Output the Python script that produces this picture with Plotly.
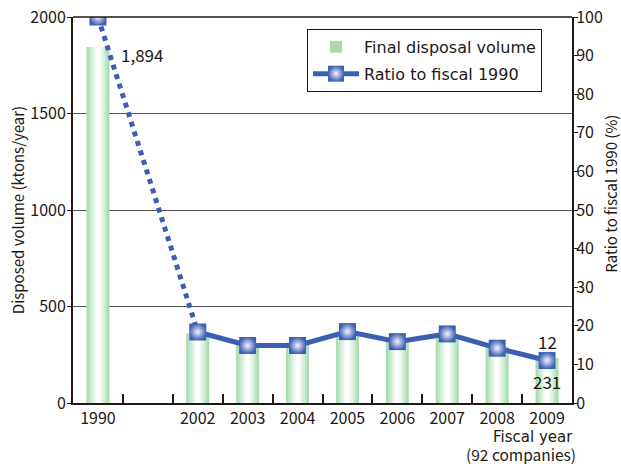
import plotly.graph_objects as go

# ---- data ----
categories = ["1990", " ", "2002", "2003", "2004", "2005", "2006", "2007", "2008", "2009"]
bar_years = ["1990", "2002", "2003", "2004", "2005", "2006", "2007", "2008", "2009"]
volume = [1845, 362, 302, 314, 354, 319, 345, 293, 233]
ratio_years = ["1990", " ", "2002", "2003", "2004", "2005", "2006", "2007", "2008", "2009"]
ratio = [100, None, 18.4, 14.9, 14.9, 18.5, 15.9, 17.9, 14.2, 11.0]
dotted_x = ["1990", "2002"]
dotted_y = [100, 18.4]
left_ticks = [0, 500, 1000, 1500, 2000]
right_ticks = [0, 10, 20, 30, 40, 50, 60, 70, 80, 90, 100]
label_1990 = "1,894"
label_2009_ratio = "12"
label_2009_volume = "231"

FONT = "Noto Sans CJK JP"
WIDE = "DejaVu Sans"
BLUE = "#3d5fb3"
INK = "#231815"

fig = go.Figure()

# simulated horizontal gradient for bars: overlaid bars of decreasing width
layers = [
    (0.46, "#a8dbb4"),
    (0.38, "#bbe4c5"),
    (0.30, "#cfedd6"),
    (0.22, "#e2f4e6"),
    (0.14, "#f1faf3"),
    (0.07, "#ffffff"),
]
for i, (w, c) in enumerate(layers):
    fig.add_trace(go.Bar(
        x=bar_years, y=volume, width=w,
        marker=dict(color=c, line=dict(width=0)),
        name="Final disposal volume",
        legendgroup="vol",
        showlegend=(i == 0),
        yaxis="y",
    ))

fig.add_trace(go.Scatter(
    x=dotted_x, y=dotted_y, mode="lines",
    line=dict(color=BLUE, width=5, dash="dot"),
    showlegend=False, yaxis="y2",
))
fig.add_trace(go.Scatter(
    x=ratio_years, y=ratio, mode="lines+markers",
    line=dict(color=BLUE, width=5),
    marker=dict(symbol="square", size=17, color=BLUE,
                gradient=dict(type="radial", color="#f4f4ff"),
                line=dict(width=0)),
    connectgaps=False,
    name="Ratio to fiscal 1990",
    legendgroup="ratio",
    yaxis="y2",
))

idx_1990 = categories.index("1990")
idx_2009 = categories.index("2009")

fig.update_layout(
    width=621, height=464,
    margin=dict(l=73, r=49, t=17, b=61, autoexpand=False),
    paper_bgcolor="white", plot_bgcolor="white",
    barmode="overlay",
    font=dict(family=FONT, size=16, color=INK),
    xaxis=dict(
        type="category", categoryorder="array", categoryarray=categories,
        range=[-0.5, len(categories) - 0.5], autorange=False,
        tickson="boundaries", ticks="inside", ticklen=9, tickcolor=INK,
        tickwidth=1.5, tickangle=0, automargin=False,
        showline=True, linecolor=INK, linewidth=2, mirror=False,
        showgrid=False, tickfont=dict(size=16),
    ),
    yaxis=dict(
        range=[0, 2000], tickvals=left_ticks, automargin=False,
        ticks="outside", ticklen=4, tickcolor=INK, ticklabelstandoff=-2,
        showline=True, linecolor=INK, linewidth=2,
        showgrid=True, gridcolor="#555555", gridwidth=1,
        zeroline=False,
        title=dict(text="Disposed volume (ktons/year)", font=dict(size=15), standoff=2),
        tickfont=dict(size=16),
    ),
    yaxis2=dict(
        range=[0, 100], tickvals=right_ticks, overlaying="y", side="right",
        automargin=False,
        ticks="outside", ticklen=4, tickcolor=INK, ticklabelstandoff=-5,
        showline=True, linecolor=INK, linewidth=2,
        showgrid=False, zeroline=False,
        tickfont=dict(size=16),
    ),
    legend=dict(
        x=0.469, y=0.969, xanchor="left", yanchor="top",
        bgcolor="white", bordercolor=INK, borderwidth=1,
        font=dict(family=WIDE, size=16), itemwidth=46,
        traceorder="grouped", tracegroupgap=3,
    ),
    shapes=[dict(type="line", xref="paper", yref="paper", x0=0, x1=1, y0=1, y1=1,
                 line=dict(color=INK, width=1.5))],
    annotations=[
        dict(x=1.078, y=0.542, xref="paper", yref="paper", text="Ratio to fiscal 1990 (%)",
             textangle=-90, showarrow=False, xanchor="center", yanchor="middle",
             font=dict(size=15)),
        dict(x=idx_1990, y=volume[0], xref="x", yref="y", text=label_1990, showarrow=False,
             xanchor="left", yanchor="middle", xshift=21, yshift=-8, font=dict(size=17)),
        dict(x=idx_2009, y=ratio[-1], xref="x", yref="y2", text=label_2009_ratio, showarrow=False,
             yanchor="middle", yshift=19, font=dict(size=17)),
        dict(x=idx_2009, y=ratio[-1], xref="x", yref="y2", text=label_2009_volume, showarrow=False,
             yanchor="middle", yshift=-21, font=dict(size=17)),
        dict(x=1.006, y=-0.089, xref="paper", yref="paper", text="Fiscal year",
             showarrow=False, xanchor="right", yanchor="middle",
             font=dict(family=WIDE, size=15)),
        dict(x=1.012, y=-0.133, xref="paper", yref="paper", text="(92 companies)",
             showarrow=False, xanchor="right", yanchor="middle", font=dict(size=15.5)),
    ],
)

fig.write_html("out.html")
